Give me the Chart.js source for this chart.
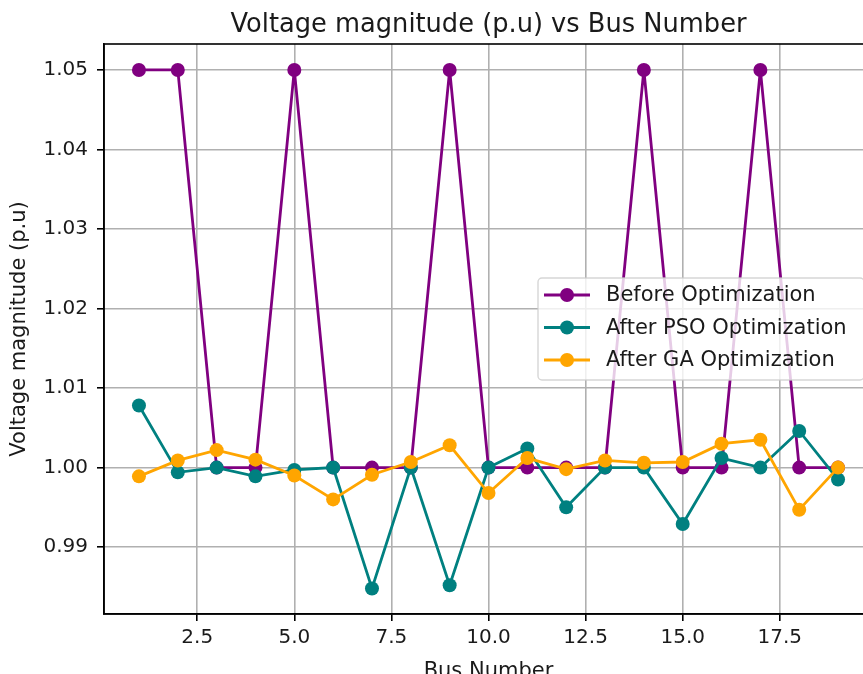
<!DOCTYPE html>
<html lang="en">
<head>
  <meta charset="UTF-8" />
  <title>Voltage magnitude vs Bus Number</title>
  <style>
    html, body { margin: 0; padding: 0; background: #fff; overflow: hidden; }
    .wrap { width: 863px; height: 674px; overflow: hidden; position: relative; }
    canvas { position: absolute; left: 0; top: 0; }
  </style>
</head>
<body>
  <div class="wrap">
    <canvas id="voltChart" width="960" height="700"></canvas>
  </div>

  <script src="https://cdn.jsdelivr.net/npm/chart.js"></script>
  <script>
    // bus numbers and voltages (p.u)
    const buses = [1, 2, 3, 4, 5, 6, 7, 8, 9, 10, 11, 12, 13, 14, 15, 16, 17, 18, 19];
    const beforeOpt = [1.05, 1.05, 1.0, 1.0, 1.05, 1.0, 1.0, 1.0, 1.05, 1.0, 1.0, 1.0, 1.0, 1.05, 1.0, 1.0, 1.05, 1.0, 1.0];
    const psoOpt = [1.0078, 0.9994, 1.0, 0.9989, 0.9997, 1.0, 0.9848, 1.0, 0.9852, 1.0, 1.0024, 0.9950, 1.0, 1.0, 0.9929, 1.0012, 1.0, 1.0046, 0.9985];
    const gaOpt = [0.9989, 1.0009, 1.0022, 1.0010, 0.9990, 0.9960, 0.9991, 1.0007, 1.0028, 0.9968, 1.0012, 0.9998, 1.0009, 1.0006, 1.0007, 1.0030, 1.0035, 0.9947, 1.0000];
    const xTicks = [2.5, 5.0, 7.5, 10.0, 12.5, 15.0, 17.5];
    const yTicks = [0.99, 1.00, 1.01, 1.02, 1.03, 1.04, 1.05];
    const chartTitle = "Voltage magnitude (p.u) vs Bus Number";

    const FONT = "'DejaVu Sans', sans-serif";
    const TEXT = "#1a1a1a";

    const toPoints = (ys) => buses.map((b, i) => ({ x: b, y: ys[i] }));

    function series(label, values, color, order) {
      return {
        label,
        data: toPoints(values),
        borderColor: color,
        backgroundColor: color,
        pointBackgroundColor: color,
        pointBorderWidth: 0,
        pointRadius: 7,
        pointHoverRadius: 7,
        borderWidth: 2.8,
        tension: 0,
        order
      };
    }

    // title centred over the axes, like matplotlib
    const axesTitle = {
      id: "axesTitle",
      afterDraw(chart) {
        const { ctx, chartArea: a } = chart;
        ctx.save();
        ctx.font = "25.7px " + FONT;
        ctx.fillStyle = TEXT;
        ctx.textAlign = "center";
        ctx.textBaseline = "alphabetic";
        ctx.fillText(chartTitle, (a.left + a.right) / 2, 32);
        ctx.restore();
      }
    };

    // frame round the plot area (top/right spines)
    const frame = {
      id: "frame",
      afterDatasetsDraw(chart) {
        const { ctx, chartArea: a } = chart;
        ctx.save();
        ctx.strokeStyle = "#000";
        ctx.lineWidth = 1.6;
        ctx.strokeRect(a.left, a.top, a.right - a.left, a.bottom - a.top);
        ctx.restore();
      }
    };

    // legend box placed like matplotlib's "center right"
    const boxLegend = {
      id: "boxLegend",
      afterDatasetsDraw(chart) {
        const ctx = chart.ctx;
        const sets = chart.data.datasets;
        const x0 = 538, y0 = 278, w = 326, h = 102;
        ctx.save();
        ctx.fillStyle = "rgba(255,255,255,0.8)";
        ctx.strokeStyle = "rgba(204,204,204,0.8)";
        ctx.lineWidth = 1.4;
        ctx.beginPath();
        ctx.roundRect(x0, y0, w, h, 4);
        ctx.fill();
        ctx.stroke();

        ctx.font = "21px " + FONT;
        ctx.textBaseline = "middle";
        sets.forEach((ds, i) => {
          const y = 295 + i * 32.5;
          ctx.strokeStyle = ds.borderColor;
          ctx.lineWidth = 2.8;
          ctx.beginPath();
          ctx.moveTo(544, y);
          ctx.lineTo(590, y);
          ctx.stroke();
          ctx.fillStyle = ds.borderColor;
          ctx.beginPath();
          ctx.arc(567, y, 7, 0, Math.PI * 2);
          ctx.fill();
          ctx.fillStyle = TEXT;
          ctx.fillText(ds.label, 606, y + 1);
        });
        ctx.restore();
      }
    };

    new Chart(document.getElementById("voltChart"), {
      type: "line",
      data: {
        datasets: [
          series("Before Optimization", beforeOpt, "#800080", 2),
          series("After PSO Optimization", psoOpt, "#008080", 1),
          series("After GA Optimization", gaOpt, "#FFA500", 0)
        ]
      },
      options: {
        responsive: false,
        animation: false,
        devicePixelRatio: 1,
        layout: { padding: { top: 44, right: 87, bottom: 0, left: 0 } },
        plugins: {
          legend: { display: false },
          tooltip: { enabled: false },
          title: { display: false }
        },
        scales: {
          x: {
            type: "linear",
            min: 0.1,
            max: 19.9,
            afterBuildTicks: (s) => { s.ticks = xTicks.map(v => ({ value: v })); },
            afterFit: (s) => { s.height = 86; },
            ticks: {
              color: TEXT,
              font: { family: FONT, size: 20 },
              padding: 5,
              maxRotation: 0,
              callback: (v) => Number(v).toFixed(1)
            },
            grid: {
              color: "#b0b0b0",
              lineWidth: 1.6,
              tickColor: "#000",
              tickWidth: 1.6,
              tickLength: 7
            },
            border: { color: "#000", width: 1.6 },
            title: {
              display: true,
              text: "Bus Number",
              color: TEXT,
              font: { family: FONT, size: 21 },
              padding: { top: 0, bottom: 16 }
            }
          },
          y: {
            min: 0.98159,
            max: 1.05326,
            afterBuildTicks: (s) => { s.ticks = yTicks.map(v => ({ value: v })); },
            afterFit: (s) => { s.width = 104; },
            ticks: {
              color: TEXT,
              font: { family: FONT, size: 20 },
              padding: 9,
              callback: (v) => Number(v).toFixed(2)
            },
            grid: {
              color: "#b0b0b0",
              lineWidth: 1.6,
              tickColor: "#000",
              tickWidth: 1.6,
              tickLength: 7
            },
            border: { color: "#000", width: 1.6 },
            title: {
              display: true,
              text: "Voltage magnitude (p.u)",
              color: TEXT,
              font: { family: FONT, size: 21 },
              padding: { top: 7, bottom: 0 }
            }
          }
        }
      },
      plugins: [axesTitle, frame, boxLegend]
    });
  </script>
</body>
</html>
